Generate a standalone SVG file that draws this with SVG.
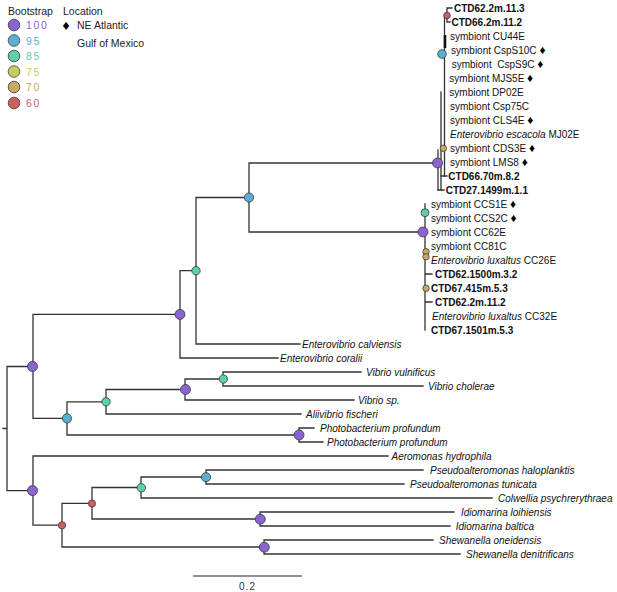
<svg xmlns="http://www.w3.org/2000/svg" width="617" height="592" viewBox="0 0 617 592">
<style>
.br{stroke:#333;stroke-width:1.3;fill:none;stroke-linecap:square}
.t{font-family:"Liberation Sans",Arial,sans-serif;font-size:10px;fill:#111}
.b{font-weight:bold}
.i{font-style:italic}
.d{font-size:12px;fill:#000}
.n{stroke:#3a3a3a;stroke-width:0.8}
.p100{fill:#8b63d3}.p95{fill:#5aaed0}.p85{fill:#5ecfae}.p75{fill:#c4cc62}.p70{fill:#c9a860}.p60{fill:#cd5f5f}
.lg{font-family:"Liberation Sans",Arial,sans-serif;font-size:10.5px;fill:#222}
.lv{font-family:"Liberation Sans",Arial,sans-serif;font-size:10.5px;letter-spacing:1.6px}
</style>
<rect width="617" height="592" fill="#fff"/>

<g id="legend">
<text class="lg" x="8" y="15">Bootstrap</text>
<text class="lg" x="63" y="15">Location</text>
<circle class="n p100" cx="14" cy="25" r="5.8"/><text class="lv p100" x="26" y="29">100</text>
<circle class="n p95" cx="14" cy="40.5" r="5.8"/><text class="lv p95" x="26" y="44.5">95</text>
<circle class="n p85" cx="14" cy="56" r="5.8"/><text class="lv p85" x="26" y="60">85</text>
<circle class="n p75" cx="14" cy="71.5" r="5.8"/><text class="lv p75" x="26" y="75.5">75</text>
<circle class="n p70" cx="14" cy="87" r="5.8"/><text class="lv p70" x="26" y="91">70</text>
<circle class="n p60" cx="14" cy="103" r="5.8"/><text class="lv p60" x="26" y="107">60</text>
<text class="lg" x="62.5" y="29.5" style="font-size:14px;fill:#000">♦</text>
<text class="lg" x="77" y="29">NE Atlantic</text>
<text class="lg" x="77" y="47">Gulf of Mexico</text>
</g>

<g id="connectors">
<path class="br" d="M3,428.5H7M7,366.5V490.6M7,366.5H33M7,490.6H33"/>
<path class="br" d="M33,314.4V418.4M33,314.4H180M33,418.4H67"/>
<path class="br" d="M180,270.7V358M180,270.7H196M180,358H278"/>
<path class="br" d="M196,197.5V344M196,197.5H249M196,344H300"/>
<path class="br" d="M249,163V232M249,163H437M249,232H424"/>
<!-- top cluster -->
<path class="br" d="M444.5,15V176M441,92V190M438,150V190M444.5,15H447M447,8V22M447,8H452M447,22H450"/>
<path class="br" d="M441,176H447M438,190H444"/>
<path d="M445,35V48" stroke="#111" stroke-width="2.6"/>
<!-- bottom cluster -->
<path class="br" d="M425,204V330M425,274H432M425,302H432"/>
<!-- vibrionaceae -->
<path class="br" d="M67,401.8V435M67,401.8H106M67,435H299"/>
<path class="br" d="M106,389.5V414M106,389.5H185M106,414H301"/>
<path class="br" d="M185,379V400M185,379H223M185,400H354"/>
<path class="br" d="M223,372V386M223,372H361M223,386H423"/>
<path class="br" d="M299,428V442M299,428H314M299,442H323"/>
<!-- outgroup -->
<path class="br" d="M33,456V525.1M33,456H388M33,525.1H62"/>
<path class="br" d="M62,503.3V547M62,503.3H92M62,547H264"/>
<path class="br" d="M92,487.5V519M92,487.5H141M92,519H260"/>
<path class="br" d="M141,477V498M141,477H206M141,498H492"/>
<path class="br" d="M206,470V484M206,470H423M206,484H404"/>
<path class="br" d="M260,512V526M260,512H454M260,526H450"/>
<path class="br" d="M264,540V554M264,540H433M264,554H460"/>
<!-- scale -->
<path d="M193,576H302" stroke="#222" stroke-width="1.2"/>
</g>

<g id="internal-nodes">
<g id="nA"><circle class="n p100" cx="32.5" cy="366.5" r="5"/></g>
<g id="nB"><circle class="n p100" cx="180" cy="314.4" r="5"/></g>
<g id="nC"><circle class="n p85" cx="196" cy="270.7" r="4.2"/></g>
<g id="nD"><circle class="n p95" cx="249" cy="197.5" r="4.6"/></g>
<g id="nE"><circle class="n p100" cx="437.5" cy="163" r="5"/></g>
<g id="nE1"><circle class="n p60" cx="447" cy="15.5" r="3.3"/></g>
<g id="nE2"><circle class="n p95" cx="442" cy="54" r="4.3"/></g>
<g id="nE3"><circle class="n p70" cx="443.3" cy="148.3" r="3.2"/></g>
<g id="nF"><circle class="n p100" cx="423" cy="232" r="5"/></g>
<g id="nF1"><circle class="n p85" cx="425" cy="212.7" r="4"/></g>
<g id="nF2"><circle class="n p70" cx="426" cy="251.7" r="3.2"/></g>
<g id="nF3"><circle class="n p70" cx="426" cy="256.8" r="3.2"/></g>
<g id="nF4"><circle class="n p70" cx="426" cy="288.3" r="3.2"/></g>
<g id="nG"><circle class="n p95" cx="67" cy="418.4" r="4.6"/></g>
<g id="nH"><circle class="n p85" cx="106" cy="401.8" r="4.2"/></g>
<g id="nI"><circle class="n p100" cx="185.5" cy="389.5" r="5"/></g>
<g id="nJ"><circle class="n p85" cx="223.3" cy="379" r="4.2"/></g>
<g id="nK"><circle class="n p100" cx="299" cy="435" r="5"/></g>
<g id="nL"><circle class="n p100" cx="32.5" cy="490.6" r="5"/></g>
<g id="nM"><circle class="n p60" cx="62" cy="525.3" r="3.6"/></g>
<g id="nN"><circle class="n p60" cx="92" cy="503.5" r="3.6"/></g>
<g id="nO"><circle class="n p85" cx="141.3" cy="487.8" r="4.2"/></g>
<g id="nP"><circle class="n p95" cx="206" cy="477.2" r="4.6"/></g>
<g id="nQ"><circle class="n p100" cx="260.3" cy="519.2" r="5"/></g>
<g id="nS"><circle class="n p100" cx="264.3" cy="547.2" r="5"/></g>
</g>

<g id="tips">
<g id="t0"><text class="t b" x="454" y="11.6">CTD62.2m.11.3</text></g>
<g id="t1"><text class="t b" x="451.5" y="25.6">CTD66.2m.11.2</text></g>
<g id="t2"><text class="t" x="450" y="39.6">symbiont CU44E</text></g>
<g id="t3"><text class="t" x="451" y="53.6">symbiont CspS10C <tspan class="d">♦</tspan></text></g>
<g id="t4"><text class="t" x="451.7" y="67.6">symbiont &#160;CspS9C <tspan class="d">♦</tspan></text></g>
<g id="t5"><text class="t" x="449.3" y="81.6">symbiont MJS5E <tspan class="d">♦</tspan></text></g>
<g id="t6"><text class="t" x="449.3" y="95.6">symbiont DP02E</text></g>
<g id="t7"><text class="t" x="450" y="109.6">symbiont Csp75C</text></g>
<g id="t8"><text class="t" x="450" y="123.6">symbiont CLS4E <tspan class="d">♦</tspan></text></g>
<g id="t9"><text class="t" x="450" y="137.6"><tspan class="i">Enterovibrio escacola</tspan> MJ02E</text></g>
<g id="t10"><text class="t" x="450" y="151.6">symbiont CDS3E <tspan class="d">♦</tspan></text></g>
<g id="t11"><text class="t" x="450" y="165.6">symbiont LMS8 <tspan class="d">♦</tspan></text></g>
<g id="t12"><text class="t b" x="448.3" y="179.6">CTD66.70m.8.2</text></g>
<g id="t13"><text class="t b" x="445.7" y="193.6">CTD27.1499m.1.1</text></g>
<g id="t14"><text class="t" x="431" y="207.6">symbiont CCS1E <tspan class="d">♦</tspan></text></g>
<g id="t15"><text class="t" x="431" y="221.6">symbiont CCS2C <tspan class="d">♦</tspan></text></g>
<g id="t16"><text class="t" x="431" y="235.6">symbiont CC62E</text></g>
<g id="t17"><text class="t" x="431" y="249.6">symbiont CC81C</text></g>
<g id="t18"><text class="t" x="431" y="263.6"><tspan class="i">Enterovibrio luxaltus</tspan> CC26E</text></g>
<g id="t19"><text class="t b" x="435" y="277.6">CTD62.1500m.3.2</text></g>
<g id="t20"><text class="t b" x="431" y="291.6">CTD67.415m.5.3</text></g>
<g id="t21"><text class="t b" x="435" y="305.6">CTD62.2m.11.2</text></g>
<g id="t22"><text class="t" x="432" y="319.6"><tspan class="i">Enterovibrio luxaltus</tspan> CC32E</text></g>
<g id="t23"><text class="t b" x="431" y="333.6">CTD67.1501m.5.3</text></g>
<g id="t24"><text class="t i" x="302" y="347.6">Enterovibrio calviensis</text></g>
<g id="t25"><text class="t i" x="280" y="361.6">Enterovibrio coralii</text></g>
<g id="t26"><text class="t i" x="366" y="375.6">Vibrio vulnificus</text></g>
<g id="t27"><text class="t i" x="428" y="389.6">Vibrio cholerae</text></g>
<g id="t28"><text class="t i" x="358" y="403.6">Vibrio sp.</text></g>
<g id="t29"><text class="t i" x="306" y="417.6">Aliivibrio fischeri</text></g>
<g id="t30"><text class="t i" x="320" y="431.6">Photobacterium profundum</text></g>
<g id="t31"><text class="t i" x="327" y="445.6">Photobacterium profundum</text></g>
<g id="t32"><text class="t i" x="391.5" y="459.6">Aeromonas hydrophila</text></g>
<g id="t33"><text class="t i" x="430" y="473.6">Pseudoalteromonas haloplanktis</text></g>
<g id="t34"><text class="t i" x="410" y="487.6">Pseudoalteromonas tunicata</text></g>
<g id="t35"><text class="t i" x="498" y="501.6">Colwellia psychrerythraea</text></g>
<g id="t36"><text class="t i" x="461" y="515.6">Idiomarina loihiensis</text></g>
<g id="t37"><text class="t i" x="455.7" y="529.6">Idiomarina baltica</text></g>
<g id="t38"><text class="t i" x="439" y="543.6">Shewanella oneidensis</text></g>
<g id="t39"><text class="t i" x="466" y="557.6">Shewanella denitrificans</text></g>
</g>

<g id="scale"><text class="t" x="247.5" y="590" text-anchor="middle" style="fill:#333;letter-spacing:1px">0.2</text></g>
</svg>
